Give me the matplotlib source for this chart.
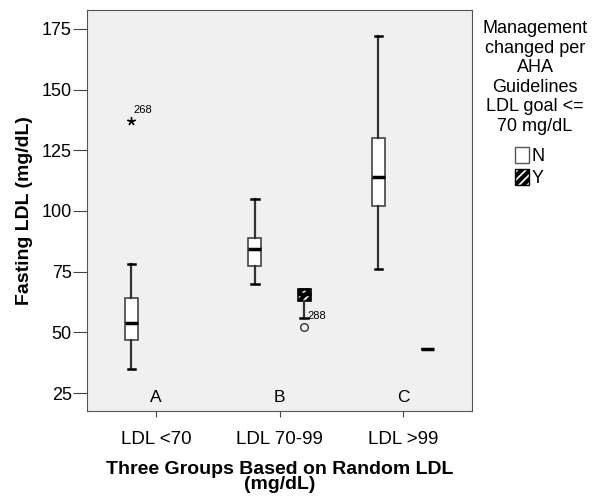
import matplotlib
matplotlib.use("Agg")
import matplotlib.pyplot as plt
from matplotlib.patches import Patch

plt.rcParams['font.family'] = ['Liberation Sans', 'DejaVu Sans']
plt.rcParams['hatch.linewidth'] = 3.0

categories = ["LDL <70", "LDL 70-99", "LDL >99"]
group_letters = ["A", "B", "C"]

# N series stats: whislo, q1, med, q3, whishi
n_whislo = [35, 70, 76]
n_q1 = [47, 77.5, 102]
n_med = [54, 84.5, 114]
n_q3 = [64, 89, 130]
n_whishi = [78, 105, 172]

# Y series stats (group A has none)
y_groups = [1, 2]
y_whislo = [56, 43]
y_q1 = [63, 43]
y_med = [66, 43]
y_q3 = [68, 43]
y_whishi = [68, 43]

# outliers
star_group = 0
star_value = 137
star_label = "268"
circle_group = 1
circle_value = 52
circle_label = "288"

fig = plt.figure(figsize=(5.92, 5.0), dpi=100)
ax = fig.add_axes([87/592, 89/500, 385/592, 401/500])
ax.set_facecolor('#f0f0f0')

off = 0.2
w = 0.105

n_stats = []
for i in range(3):
    n_stats.append(dict(whislo=n_whislo[i], q1=n_q1[i], med=n_med[i],
                        q3=n_q3[i], whishi=n_whishi[i], fliers=[]))
ax.bxp(n_stats, positions=[i - off for i in range(3)], widths=w,
       patch_artist=True, showfliers=False,
       boxprops=dict(facecolor='white', edgecolor='#444444', linewidth=1.2),
       medianprops=dict(color='black', linewidth=2.5),
       whiskerprops=dict(color='#333333', linewidth=1.6),
       capprops=dict(color='black', linewidth=1.8),
       capwidths=0.06)

y_stats = []
for j in range(len(y_groups)):
    y_stats.append(dict(whislo=y_whislo[j], q1=y_q1[j], med=y_med[j],
                        q3=y_q3[j], whishi=y_whishi[j], fliers=[]))
ax.bxp(y_stats, positions=[g + off for g in y_groups], widths=w,
       patch_artist=True, showfliers=False,
       boxprops=dict(facecolor='white', edgecolor='black', linewidth=1.2, hatch='////'),
       medianprops=dict(color='black', linewidth=2.5),
       whiskerprops=dict(color='#333333', linewidth=1.6),
       capprops=dict(color='black', linewidth=1.8),
       capwidths=0.06)

ax.plot([star_group - off], [star_value], marker=(5, 2, 0), color='black',
        markersize=6, linestyle='none')
ax.text(star_group - off + 0.015, star_value + 3.5, star_label, fontsize=8)
ax.plot([circle_group + off], [circle_value], marker='o', markerfacecolor='none',
        markeredgecolor='#333333', markersize=5.5, linestyle='none')
ax.text(circle_group + off + 0.03, 55.5, circle_label, fontsize=8)

for i, letter in enumerate(group_letters):
    ax.text(i, 23.2, letter, ha='center', va='center', fontsize=12.5)

ax.set_xlim(-0.56, 2.56)
ax.set_ylim(17.6, 182.8)
ax.set_xticks(range(3))
ax.set_xticklabels(categories, fontsize=13.5)
ax.set_yticks([25, 50, 75, 100, 125, 150, 175])
ax.tick_params(axis='y', labelsize=13, length=10, color='#444444', pad=1)
ax.tick_params(axis='x', length=4.5, color='#444444', pad=10)
for s in ax.spines.values():
    s.set_color('#555555')

ax.set_ylabel("Fasting LDL (mg/dL)", fontsize=14, fontweight='bold', labelpad=6)
ax.set_xlabel("Three Groups Based on Random LDL\n(mg/dL)", fontsize=14,
              fontweight='bold', linespacing=0.85, labelpad=9)

fig.text(535/592, 1 - 20/500,
         "Management\nchanged per\nAHA\nGuidelines\nLDL goal <=\n70 mg/dL",
         ha='center', va='top', fontsize=13, linespacing=1.2)

handles = [Patch(facecolor='white', edgecolor='#555555', label='N'),
           Patch(facecolor='white', edgecolor='black', hatch='////', label='Y')]
fig.legend(handles=handles, loc='upper left', bbox_to_anchor=(515/592, 1 - 147/500),
           frameon=False, fontsize=13, handlelength=0.8, handleheight=1.0,
           handletextpad=0.1, labelspacing=0.2, borderpad=0, borderaxespad=0)

fig.savefig("out.png", dpi=100, facecolor='white')
